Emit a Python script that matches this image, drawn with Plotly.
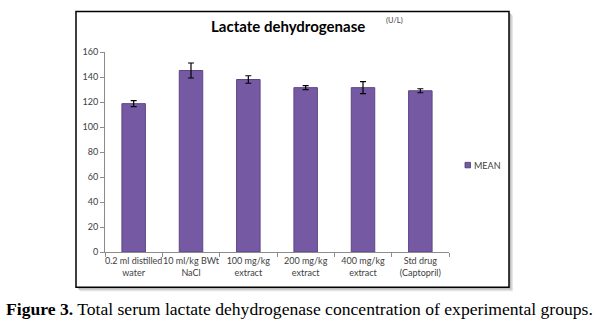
import plotly.graph_objects as go

categories = ["0.2 ml distilled<br>water", "10 ml/kg BWt<br>NaCl", "100 mg/kg<br>extract",
              "200 mg/kg<br>extract", "400 mg/kg<br>extract", "Std drug<br>(Captopril)"]
mean_values = [118.7, 145.2, 138.0, 131.5, 131.5, 129.0]
error_values = [2.4, 6.0, 3.0, 1.6, 4.8, 1.6]
y_ticks = [0, 20, 40, 60, 80, 100, 120, 140, 160]
series_name = "MEAN"

W, H = 599, 326
L, R, T, B = 105, 449, 51.7, 252.5

def px(x):
    return (x - L) / (R - L)

def py(y):
    return (B - y) / (B - T)

BAR_COLOR = "#7659a3"

fig = go.Figure()
fig.add_trace(go.Bar(
    x=categories, y=mean_values, name=series_name, showlegend=False,
    marker=dict(color=BAR_COLOR, line=dict(color="#5d4686", width=1)),
    width=0.41,
    error_y=dict(type="data", array=error_values, color="black", thickness=1.2, width=3),
))

shapes = []
# shadow of the frame
for off, col in [(4, "#e6e6e6"), (3, "#d4d4d4"), (2, "#bdbdbd")]:
    shapes.append(dict(type="rect", xref="paper", yref="paper",
                       x0=px(76 + off), x1=px(509 + off), y0=py(288 + off), y1=py(11 + off),
                       line=dict(width=0), fillcolor=col, layer="below"))
shapes.append(dict(type="rect", xref="paper", yref="paper",
                   x0=px(76), x1=px(509), y0=py(288), y1=py(11),
                   line=dict(width=1.5, color="black"), fillcolor="white", layer="below"))
# legend swatch
shapes.append(dict(type="rect", xref="paper", yref="paper",
                   x0=px(465), x1=px(470.5), y0=py(168), y1=py(162.5),
                   line=dict(width=0.8, color="#4a3870"), fillcolor=BAR_COLOR))

fig.update_layout(
    width=W, height=H,
    margin=dict(l=L, r=W - R, t=T, b=H - B, pad=0),
    paper_bgcolor="white", plot_bgcolor="rgba(0,0,0,0)",
    shapes=shapes,
    showlegend=False,
    font=dict(family="Lato", size=9, color="#404040"),
)
fig.update_xaxes(type="category", showline=True, linecolor="#8c8c8c", linewidth=1,
                 ticks="outside", tickson="boundaries", ticklen=4, tickcolor="#8c8c8c",
                 tickangle=0,
                 tickfont=dict(family="Lato", size=9, color="#404040"),
                 showgrid=False, fixedrange=True)
fig.update_yaxes(range=[0, 160], tickvals=y_ticks, showline=True, linecolor="#8c8c8c",
                 linewidth=1, ticks="outside", ticklen=4, tickcolor="#8c8c8c",
                 tickfont=dict(family="Lato", size=9, color="#404040"),
                 showgrid=False, zeroline=False, fixedrange=True)

fig.add_annotation(xref="paper", yref="paper", x=px(471.5), y=py(165.3), text=series_name,
                   showarrow=False, xanchor="left", yanchor="middle",
                   font=dict(family="Lato", size=9, color="#404040"))
fig.add_annotation(xref="paper", yref="paper", x=px(287.5), y=py(26), text="Lactate dehydrogenase",
                   showarrow=False, xanchor="center", yanchor="middle",
                   font=dict(family="Lato", size=15, color="black", weight="bold"))
fig.add_annotation(xref="paper", yref="paper", x=px(384), y=py(20), text="(U/L)",
                   showarrow=False, xanchor="left", yanchor="middle",
                   font=dict(family="Lato", size=7.5, color="#404040"))
fig.add_annotation(xref="paper", yref="paper", x=px(299), y=py(310),
                   text="<b>Figure 3.</b> Total serum lactate dehydrogenase concentration of experimental groups.",
                   showarrow=False, xanchor="center", yanchor="middle",
                   font=dict(family="Liberation Serif", size=17.6, color="black"))

fig.write_html("out.html")
